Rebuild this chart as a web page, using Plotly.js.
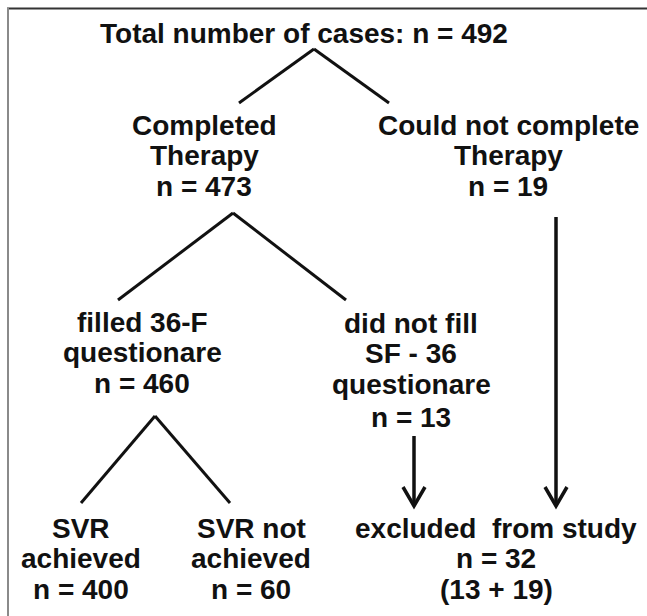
<!DOCTYPE html>
<html>
<head>
<meta charset="utf-8">
<script src="https://cdn.plot.ly/plotly-3.0.1.min.js"></script>
<style>
  html, body { margin: 0; padding: 0; background: #ffffff; }
  #chart { width: 647px; height: 616px; }
</style>
</head>
<body>
<div id="chart"></div>
<script>
// ---- data (values of the flow chart) ----
const nodeNames = [
  "Total number of cases:",
  "Completed|Therapy",
  "Could not complete|Therapy",
  "filled 36-F|questionare",
  "did not fill|SF - 36|questionare",
  "SVR|achieved",
  "SVR not|achieved",
  "excluded  from study"
];
const nodeCounts = [492, 473, 19, 460, 13, 400, 60, 32];
const excludedParts = [13, 19];

// tree links: [parent, child]
const splitLinks = [[0, 1], [0, 2], [1, 3], [1, 4], [3, 5], [3, 6]];
const arrowLinks = [[4, 7], [2, 7]];

// ---- layout (positions only) ----
// text block centre x and first-line baseline y for each node
const nodeCx = [304, 204, 508, 142, 411, 81, 251, 496];
const nodeBase = [43, 135, 135, 332, 333, 538, 538, 538];
const lineGap = 30.5;
// per-line centre tweaks (optional)
// connector geometry
const splitApex = { 0: [314, 49], 1: [233, 213], 3: [155, 416] };
const splitEnd = { 1: [239, 103], 2: [389, 103], 3: [118, 300], 4: [346, 300], 5: [81, 503], 6: [230, 503] };
const arrowStart = { 4: [414, 436], 2: [556, 217] };
const arrowTipY = 506;

const FONT = { family: "Liberation Sans, Arial, Helvetica, sans-serif", size: 28, color: "#111111" };

// build text lines
const annotations = [];
function addLine(txt, x, yBase) {
  annotations.push({
    text: "<b>" + txt + "</b>", x: x, y: yBase - 10, xref: "x", yref: "y",
    xanchor: "center", yanchor: "middle", showarrow: false, font: FONT
  });
}
nodeNames.forEach((name, i) => {
  let lines = name.split("|");
  if (i === 0) {
    lines = [name + " n = " + nodeCounts[i]];
  } else {
    lines.push("n = " + nodeCounts[i]);
  }
  if (i === 7) lines.push("(" + excludedParts.join(" + ") + ")");
  let y = nodeBase[i];
  lines.forEach((ln, k) => {
    let yy = nodeBase[i] + k * lineGap;
    if (i === 4 && k === 3) yy += 3;
    addLine(ln, nodeCx[i], yy);
  });
});

// build connector traces
const traces = [];
const LINE = { color: "#111111", width: 3 };
const seenParents = {};
splitLinks.forEach(([p, c]) => {
  const a = splitApex[p], e = splitEnd[c];
  traces.push({ x: [a[0], e[0]], y: [a[1], e[1]], mode: "lines", line: LINE,
    hoverinfo: "skip", showlegend: false, type: "scatter" });
});
arrowLinks.forEach(([p, c]) => {
  const s = arrowStart[p];
  traces.push({ x: [s[0], s[0]], y: [s[1], arrowTipY], mode: "lines",
    line: { color: "#111111", width: 3.5 }, hoverinfo: "skip", showlegend: false, type: "scatter" });
  traces.push({ x: [s[0] - 11, s[0], s[0] + 11], y: [arrowTipY - 19, arrowTipY, arrowTipY - 19],
    mode: "lines", line: { color: "#111111", width: 3.5, }, hoverinfo: "skip", showlegend: false, type: "scatter" });
});

const layout = {
  width: 647, height: 616,
  margin: { l: 0, r: 0, t: 0, b: 0 },
  paper_bgcolor: "#ffffff", plot_bgcolor: "#ffffff",
  xaxis: { range: [0, 647], visible: false, fixedrange: true },
  yaxis: { range: [616, 0], visible: false, fixedrange: true },
  showlegend: false,
  annotations: annotations,
  shapes: [
    { type: "line", xref: "x", yref: "y", x0: 7, x1: 647, y0: 8.5, y1: 8.5, line: { color: "#333333", width: 2 } },
    { type: "line", xref: "x", yref: "y", x0: 8, x1: 8, y0: 8, y1: 616, line: { color: "#8a8a8a", width: 2 } }
  ]
};

Plotly.newPlot("chart", traces, layout, { staticPlot: true, displayModeBar: false });
</script>
</body>
</html>
